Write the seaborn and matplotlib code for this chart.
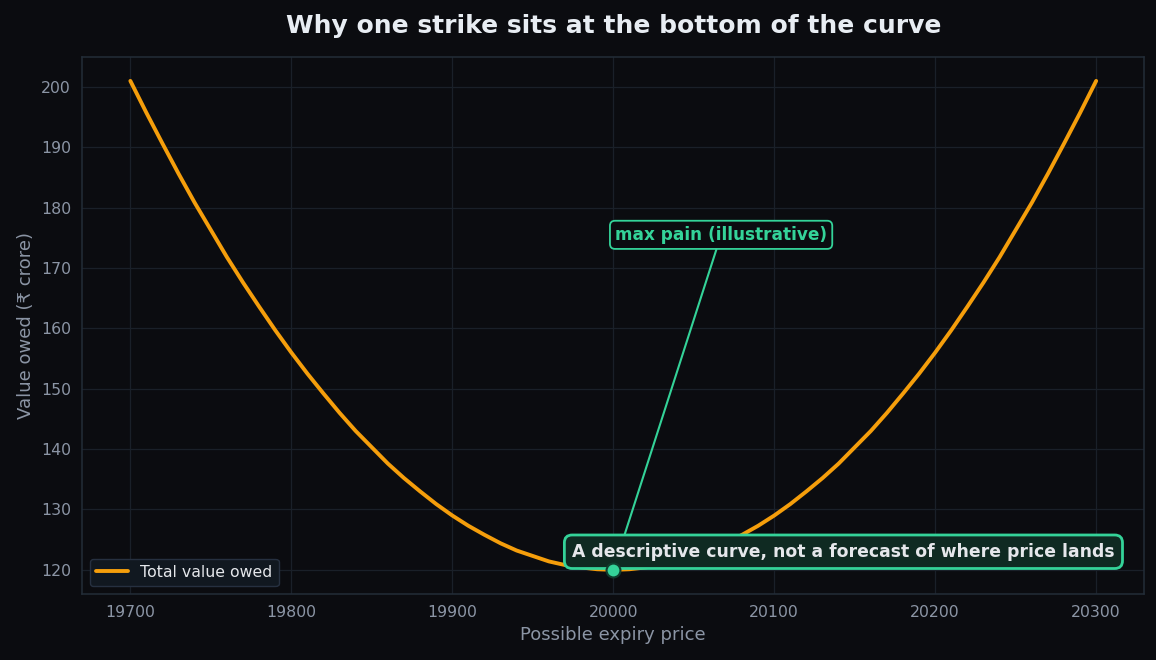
import matplotlib
matplotlib.use("Agg")
import matplotlib.pyplot as plt
import seaborn as sns
import pandas as pd

# values (every 10 points of expiry price)
expiry_price = list(range(19700, 20301, 10))
value_owed = [201.0, 195.7, 190.6, 185.6, 180.8, 176.3, 171.8, 167.6, 163.6, 159.7,
              156.0, 152.5, 149.2, 146.0, 143.0, 140.3, 137.6, 135.2, 133.0, 130.9,
              129.0, 127.3, 125.8, 124.4, 123.2, 122.3, 121.4, 120.8, 120.4, 120.1,
              120.0,
              120.1, 120.4, 120.8, 121.4, 122.3, 123.2, 124.4, 125.8, 127.3, 129.0,
              130.9, 133.0, 135.2, 137.6, 140.3, 143.0, 146.0, 149.2, 152.5, 156.0,
              159.7, 163.6, 167.6, 171.8, 176.3, 180.8, 185.6, 190.6, 195.7, 201.0]
max_pain_strike = 20000
max_pain_value = 120.0

df = pd.DataFrame({"price": expiry_price, "owed": value_owed})

bg = "#0b0c10"
orange = "#f59e0b"
green = "#34d399"
muted = "#8b95a5"

sns.set_theme(style="darkgrid")
plt.rcParams["font.family"] = ["DejaVu Sans"]

fig, ax = plt.subplots(figsize=(11.56, 6.6), dpi=100)
fig.patch.set_facecolor(bg)
ax.set_facecolor(bg)

sns.lineplot(data=df, x="price", y="owed", ax=ax, color=orange, linewidth=2.8,
             label="Total value owed")
ax.plot([max_pain_strike], [max_pain_value], "o", color=green, markersize=10,
        markeredgecolor="#0f3d2e", markeredgewidth=1.5, zorder=8)

ax.annotate("max pain (illustrative)", xy=(max_pain_strike, max_pain_value),
            xytext=(20067, 175.5), ha="center", va="center",
            color=green, fontsize=12.2, fontweight="bold",
            bbox=dict(boxstyle="round,pad=0.3", fc=bg, ec=green, lw=1.3),
            arrowprops=dict(arrowstyle="-", color=green, lw=1.5, shrinkA=0, shrinkB=6),
            zorder=5)
ax.text(20143, 123, "A descriptive curve, not a forecast of where price lands",
        ha="center", va="center", color="#e5e7eb", fontsize=12.4, fontweight="bold",
        bbox=dict(boxstyle="round,pad=0.45", fc="#0f2a22", ec=green, lw=2),
        zorder=7)

ax.set_xlim(19670, 20330)
ax.set_ylim(116, 205)
ax.set_xticks([19700, 19800, 19900, 20000, 20100, 20200, 20300])
ax.set_yticks(range(120, 201, 10))
ax.grid(True, color="#1a2029", linewidth=0.9)
for s in ax.spines.values():
    s.set_visible(True)
    s.set_color("#232d38")
    s.set_linewidth(1.1)
ax.tick_params(colors=muted, labelsize=11.3, length=4.5)
ax.set_xlabel("Possible expiry price", color=muted, fontsize=13)
ax.set_ylabel("Value owed (₹ crore)", color=muted, fontsize=13)
ax.set_title("Why one strike sits at the bottom of the curve", color="#e8edf3",
             fontsize=18, fontweight="bold", pad=17)

leg = ax.legend(loc="lower left", facecolor="#111820", edgecolor="#263040",
                fontsize=11.3, framealpha=1)
for t in leg.get_texts():
    t.set_color("#e5e7eb")

fig.subplots_adjust(left=0.071, right=0.99, top=0.914, bottom=0.1)
fig.savefig("out.png", dpi=100, facecolor=bg)
